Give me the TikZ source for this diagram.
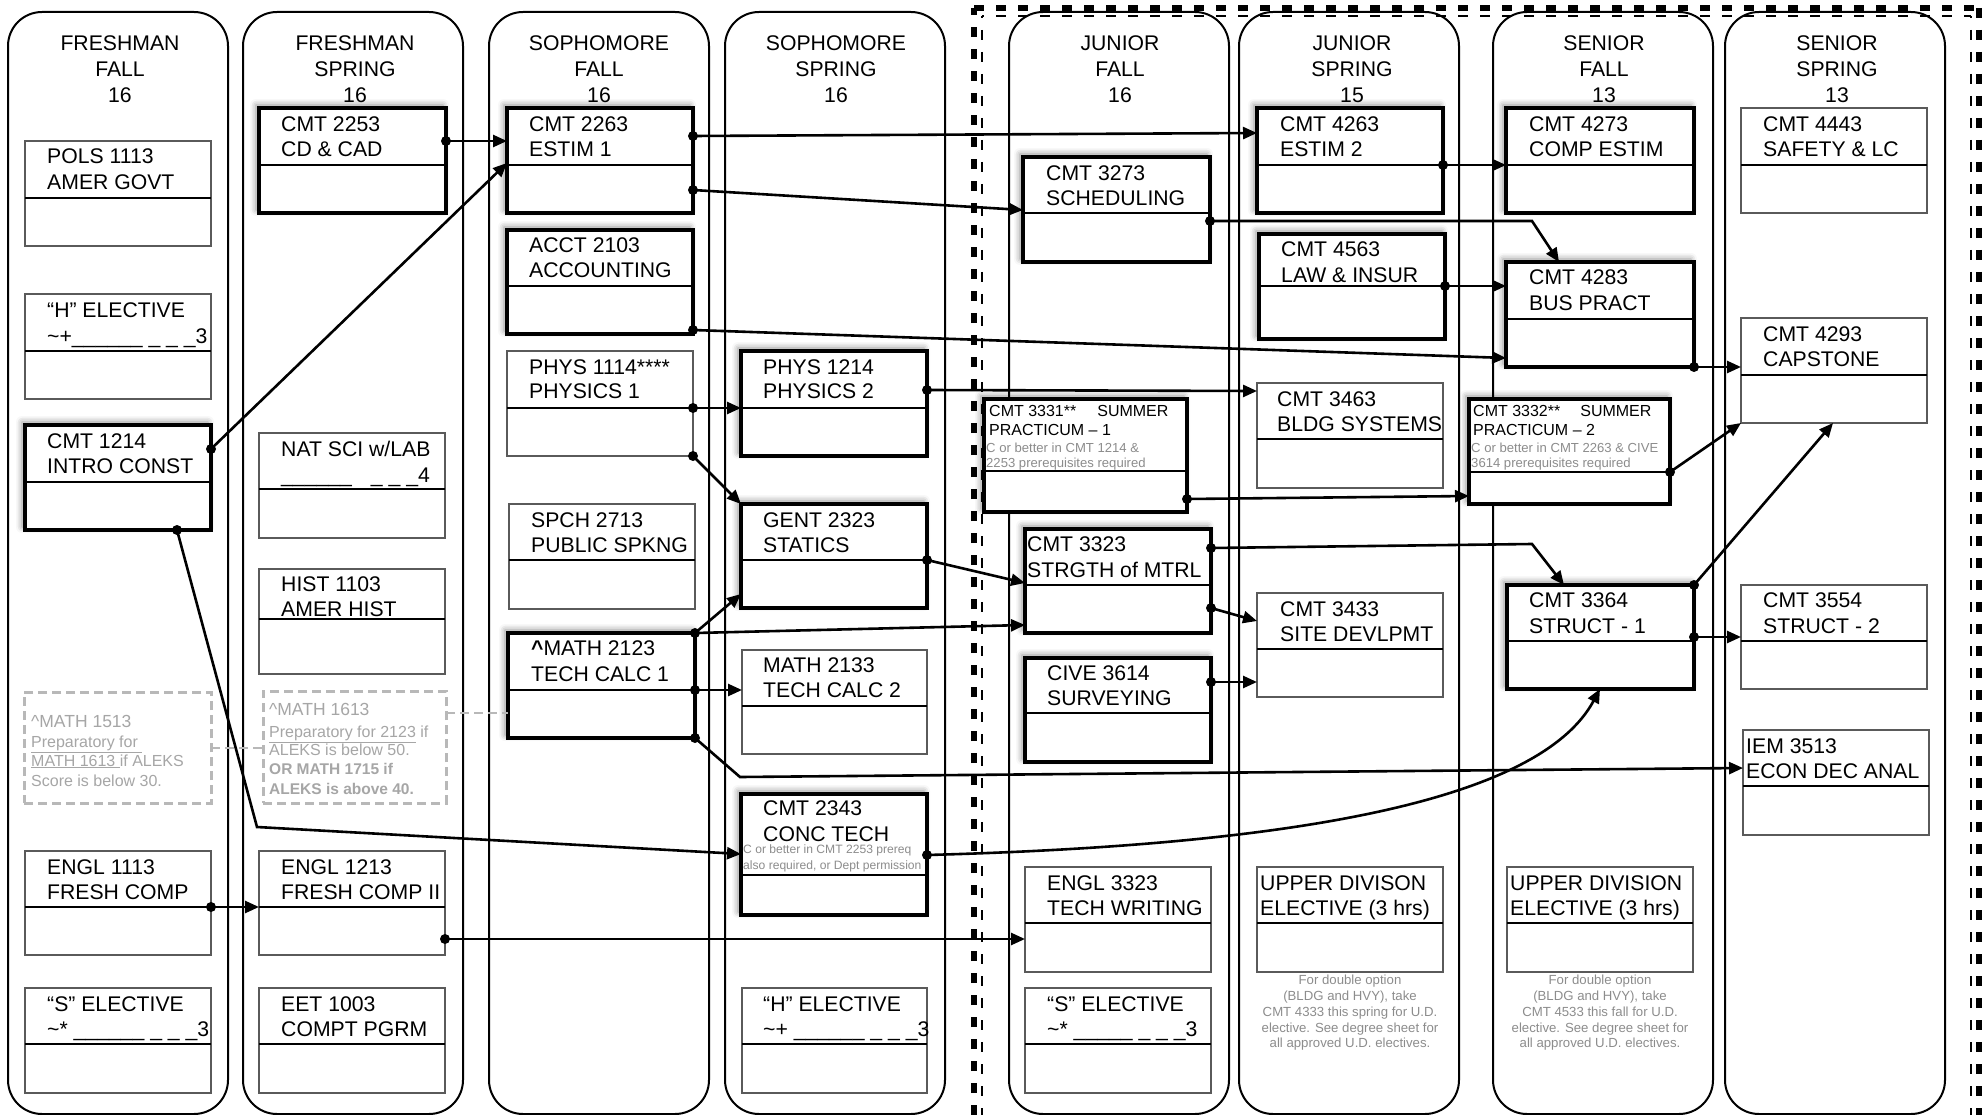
\documentclass[tikz,border=0pt]{standalone}
\usepackage{fontspec}
\setmainfont{Liberation Sans}
\usetikzlibrary{arrows.meta,calc,shadows.blur}
\definecolor{boxgray}{HTML}{5A5A5A}
\definecolor{notegray}{HTML}{8C8C8C}
\definecolor{mgray}{HTML}{A6A6A6}
\definecolor{dgray}{HTML}{B8B8B8}
\newcommand\mycrs[7]{%
  \pgfmathsetmacro\crsw{#5-#3}%
  \pgfmathsetmacro\crsh{#7-#4}%
  \node[#2, minimum width=\crsw pt, minimum height=\crsh pt, anchor=north west] (#1) at (#3,#4) {};%
  \draw[divider] (#3,#6) -- (#5,#6);%
}
\newcommand\mytwo[6]{%
  \node[tl] (#1a) at (#2,#3) {#5};%
  \node[tl] (#1b) at (#2,#4) {#6};%
}
\begin{document}
\begin{tikzpicture}[x=1pt,y=-1pt,
  semcol/.style={draw, line width=2pt, rounded corners=34pt, inner sep=0pt, outer sep=0pt, minimum width=220pt, minimum height=1102pt, anchor=north west},
  hdr/.style={align=center, inner sep=0pt, font=\fontsize{21.2}{26}\selectfont},
  thinbox/.style={draw=boxgray, line width=1.6pt, fill=white, inner sep=0pt, outer sep=0pt},
  thickbox/.style={draw=black, line width=4pt, fill=white, inner sep=0pt, outer sep=0pt, blur shadow={shadow xshift=-3pt, shadow yshift=3pt, shadow blur radius=6pt, shadow opacity=45}},
  mathbox/.style={draw=dgray, line width=3pt, dash pattern=on 9pt off 5pt, fill=white, inner sep=0pt, outer sep=0pt, anchor=north west},
  divider/.style={line width=2pt},
  tl/.style={anchor=base west, inner sep=0pt, font=\fontsize{21.2}{26}\selectfont},
  mtl/.style={anchor=base west, inner sep=0pt, text=mgray, font=\fontsize{16}{19}\selectfont},
  gtl/.style={anchor=base west, inner sep=0pt, text=notegray},
  note/.style={anchor=north, align=center, inner sep=0pt, text=notegray, font=\fontsize{13.2}{15.8}\selectfont},
  conn/.style={line width=2.6pt, -{Triangle[length=14pt,width=12pt]}},
  gconn/.style={draw=dgray, line width=2pt, dash pattern=on 9pt off 5pt},
  cdot/.style={circle, fill=black, inner sep=0pt, minimum size=10pt},
  bord/.style={dash pattern=on 10pt off 12pt}
]
\useasboundingbox (0,0) rectangle (1986,1115);

% semester columns
\node[semcol] (col1) at (8,12) {};
\node[semcol] (col2) at (243,12) {};
\node[semcol] (col3) at (489,12) {};
\node[semcol] (col4) at (725,12) {};
\node[semcol] (col5) at (1009,12) {};
\node[semcol] (col6) at (1239,12) {};
\node[semcol] (col7) at (1493,12) {};
\node[semcol] (col8) at (1725,12) {};

\node[hdr] (h1) at (120,69) {FRESHMAN\\FALL\\16};
\node[hdr] (h2) at (355,69) {FRESHMAN\\SPRING\\16};
\node[hdr] (h3) at (599,69) {SOPHOMORE\\FALL\\16};
\node[hdr] (h4) at (836,69) {SOPHOMORE\\SPRING\\16};
\node[hdr] (h5) at (1120,69) {JUNIOR\\FALL\\16};
\node[hdr] (h6) at (1352,69) {JUNIOR\\SPRING\\15};
\node[hdr] (h7) at (1604,69) {SENIOR\\FALL\\13};
\node[hdr] (h8) at (1837,69) {SENIOR\\SPRING\\13};

% dashed upper-division border
\draw[bord, line width=6pt] (974,1115) -- (974,8);
\draw[bord, line width=6pt] (974,8) -- (1979,8);
\draw[bord, line width=6pt] (1979,8) -- (1979,1115);
\draw[bord, line width=2.5pt, dash phase=8pt] (982,16) -- (982,1115);
\draw[bord, line width=2.5pt, dash phase=8pt] (982,16) -- (1971,16);
\draw[bord, line width=2.5pt, dash phase=8pt] (1971,16) -- (1971,1115);

% column 1
\mycrs{pols}{thinbox}{25}{141}{211}{198}{246}
\mytwo{pols}{47}{164}{190}{POLS 1113}{AMER GOVT}
\mycrs{helecA}{thinbox}{25}{294}{211}{351}{399}
\mytwo{helecA}{47}{317}{343}{“H” ELECTIVE}{\textasciitilde+\_\_\_\_\_\_\ \_\ \_\ \_3}
\mycrs{cmtAA}{thickbox}{25}{425}{211}{482}{530}
\mytwo{cmtAA}{47}{448}{473}{CMT 1214}{INTRO CONST}
\node[mathbox, minimum width=187pt, minimum height=111pt] (math1513) at (24,692) {};
\node[mtl, font=\fontsize{17.5}{20}\selectfont] (m1a) at (31,727) {\textasciicircum MATH 1513};
\node[mtl] (m1b) at (31,747) {\underline{Preparatory for\ }};
\node[mtl] (m1c) at (31,766) {\underline{MATH 1613\ }if ALEKS};
\node[mtl] (m1d) at (31,786) {Score is below 30.};
\mycrs{englA}{thinbox}{25}{851}{211}{907}{955}
\mytwo{englA}{47}{874}{899}{ENGL 1113}{FRESH COMP}
\mycrs{selecA}{thinbox}{25}{988}{211}{1044}{1093}
\mytwo{selecA}{47}{1011}{1036}{“S” ELECTIVE}{\textasciitilde* \_\_\_\_\_\_\ \_\ \_\ \_3}

% column 2
\mycrs{cmtAB}{thickbox}{259}{108}{446}{165}{213}
\mytwo{cmtAB}{281}{132}{157}{CMT 2253}{CD \& CAD}
\mycrs{natsci}{thinbox}{259}{433}{445}{489}{538}
\mytwo{natsci}{281}{456}{482}{NAT SCI w/LAB}{\_\_\_\_\_\_\hspace{19pt}\_\ \_\ \_4}
\mycrs{hist}{thinbox}{259}{569}{445}{619}{674}
\mytwo{hist}{281}{591}{616}{HIST 1103}{AMER HIST}
\node[mathbox, minimum width=183pt, minimum height=112pt] (math1613) at (263,691) {};
\node[mtl, font=\fontsize{17.5}{20}\selectfont] (m2a) at (269,715) {\textasciicircum MATH 1613};
\node[mtl] (m2b) at (269,737) {\underline{Preparatory for 2123} if};
\node[mtl] (m2c) at (269,755) {ALEKS is below 50.};
\node[mtl, font=\fontsize{15.5}{19}\selectfont\bfseries] (m2d) at (269,774) {OR MATH 1715 if};
\node[mtl, font=\fontsize{15.5}{19}\selectfont\bfseries] (m2e) at (269,794) {ALEKS is above 40.};
\mycrs{englB}{thinbox}{259}{851}{445}{907}{955}
\mytwo{englB}{281}{874}{899}{ENGL 1213}{FRESH COMP II}
\mycrs{eet}{thinbox}{259}{988}{445}{1044}{1093}
\mytwo{eet}{281}{1011}{1036}{EET 1003}{COMPT PGRM}

% column 3
\mycrs{cmtAC}{thickbox}{507}{108}{693}{165}{213}
\mytwo{cmtAC}{529}{132}{157}{CMT 2263}{ESTIM 1}
\mycrs{acct}{thickbox}{507}{230}{693}{286}{334}
\mytwo{acct}{529}{253}{278}{ACCT 2103}{ACCOUNTING}
\mycrs{physA}{thinbox}{507}{351}{693}{408}{456}
\mytwo{physA}{529}{374}{398}{PHYS 1114****}{PHYSICS 1}
\mycrs{spch}{thinbox}{509}{504}{695}{560}{609}
\mytwo{spch}{531}{527}{552}{SPCH 2713}{PUBLIC SPKNG}
\mycrs{mathA}{thickbox}{508}{633}{695}{690}{738}
\mytwo{mathA}{531}{655}{681}{\textbf{\textasciicircum}MATH 2123}{TECH CALC 1}

% column 4
\mycrs{physB}{thickbox}{741}{351}{927}{408}{456}
\mytwo{physB}{763}{374}{398}{PHYS 1214}{PHYSICS 2}
\mycrs{gent}{thickbox}{741}{504}{927}{560}{608}
\mytwo{gent}{763}{527}{552}{GENT 2323}{STATICS}
\mycrs{mathB}{thinbox}{742}{650}{927}{706}{754}
\mytwo{mathB}{763}{672}{697}{MATH 2133}{TECH CALC 2}
\mycrs{conc}{thickbox}{741}{794}{927}{875}{915}
\mytwo{conc}{763}{815}{841}{CMT 2343}{CONC TECH}
\node[gtl, font=\fontsize{12.1}{15}\selectfont] (conc-c) at (743,853) {C or better in CMT 2253 prereq};
\node[gtl, font=\fontsize{12.1}{15}\selectfont] (conc-d) at (743,869) {also required, or Dept permission};
\mycrs{helecB}{thinbox}{742}{988}{927}{1044}{1093}
\mytwo{helecB}{763}{1011}{1036}{“H” ELECTIVE}{\textasciitilde+ \_\_\_\_\_\_\ \_\ \_\ \_3}

% column 5
\mycrs{sched}{thickbox}{1023}{157}{1210}{213}{262}
\mytwo{sched}{1046}{181}{206}{CMT 3273}{SCHEDULING}
\mycrs{pracA}{thickbox}{984}{399}{1187}{471}{512}
\node[tl, font=\fontsize{16}{19}\selectfont] (pracA-a) at (989,416) {CMT 3331**\hspace{21pt}SUMMER};
\node[tl, font=\fontsize{16}{19}\selectfont] (pracA-b) at (989,435) {PRACTICUM -- 1};
\node[gtl, font=\fontsize{13.1}{15}\selectfont] (pracA-c) at (986,452) {C or better in CMT 1214 \&};
\node[gtl, font=\fontsize{13.1}{15}\selectfont] (pracA-d) at (986,467) {2253 prerequisites required};
\mycrs{strg}{thickbox}{1025}{529}{1211}{585}{633}
\mytwo{strg}{1027}{551}{577}{CMT 3323}{STRGTH of MTRL}
\mycrs{cive}{thickbox}{1025}{658}{1211}{713}{762}
\mytwo{cive}{1047}{680}{705}{CIVE 3614}{SURVEYING}
\mycrs{englC}{thinbox}{1025}{867}{1211}{923}{972}
\mytwo{englC}{1047}{890}{915}{ENGL 3323}{TECH WRITING}
\mycrs{selecB}{thinbox}{1025}{988}{1211}{1044}{1093}
\mytwo{selecB}{1047}{1011}{1036}{“S” ELECTIVE}{\textasciitilde* \_\_\_\_\_\ \_\ \_\ \_3}

% column 6
\mycrs{estB}{thickbox}{1257}{108}{1443}{165}{213}
\mytwo{estB}{1280}{132}{157}{CMT 4263}{ESTIM 2}
\mycrs{law}{thickbox}{1259}{234}{1445}{286}{339}
\mytwo{law}{1281}{257}{283}{CMT 4563}{LAW \& INSUR}
\mycrs{bldg}{thinbox}{1257}{383}{1443}{439}{488}
\mytwo{bldg}{1277}{406}{431}{CMT 3463}{BLDG SYSTEMS}
\mycrs{site}{thinbox}{1257}{593}{1443}{649}{697}
\mytwo{site}{1280}{616}{641}{CMT 3433}{SITE DEVLPMT}
\mycrs{udivA}{thinbox}{1257}{867}{1443}{923}{972}
\mytwo{udivA}{1260}{890}{915}{UPPER DIVISON}{ELECTIVE (3 hrs)}
\node[note] (noteA) at (1350,975) {For double option\\(BLDG and HVY), take\\CMT 4333 this spring for U.D.\\elective. See degree sheet for\\all approved U.D. electives.};

% column 7
\mycrs{comp}{thickbox}{1506}{108}{1694}{165}{213}
\mytwo{comp}{1529}{132}{157}{CMT 4273}{COMP ESTIM}
\mycrs{bus}{thickbox}{1506}{262}{1694}{319}{367}
\mytwo{bus}{1529}{285}{310}{CMT 4283}{BUS PRACT}
\mycrs{pracB}{thickbox}{1469}{399}{1670}{472}{504}
\node[tl, font=\fontsize{16}{19}\selectfont] (pracB-a) at (1473,416) {CMT 3332**\hspace{20pt}SUMMER};
\node[tl, font=\fontsize{16}{19}\selectfont] (pracB-b) at (1473,435) {PRACTICUM -- 2};
\node[gtl, font=\fontsize{13.1}{15}\selectfont] (pracB-c) at (1471,452) {C or better in CMT 2263 \& CIVE};
\node[gtl, font=\fontsize{13.1}{15}\selectfont] (pracB-d) at (1471,467) {3614 prerequisites required};
\mycrs{strA}{thickbox}{1507}{585}{1694}{641}{689}
\mytwo{strA}{1529}{607}{633}{CMT 3364}{STRUCT - 1}
\mycrs{udivB}{thinbox}{1507}{867}{1693}{923}{972}
\mytwo{udivB}{1510}{890}{915}{UPPER DIVISION}{ELECTIVE (3 hrs)}
\node[note] (noteB) at (1600,975) {For double option\\(BLDG and HVY), take\\CMT 4533 this fall for U.D.\\elective. See degree sheet for\\all approved U.D. electives.};

% column 8
\mycrs{safe}{thinbox}{1741}{108}{1927}{165}{213}
\mytwo{safe}{1763}{132}{157}{CMT 4443}{SAFETY \& LC}
\mycrs{cap}{thinbox}{1741}{318}{1927}{375}{423}
\mytwo{cap}{1763}{341}{366}{CMT 4293}{CAPSTONE}
\mycrs{strB}{thinbox}{1741}{585}{1927}{641}{689}
\mytwo{strB}{1763}{607}{633}{CMT 3554}{STRUCT - 2}
\mycrs{iem}{thinbox}{1743}{730}{1929}{786}{835}
\mytwo{iem}{1746}{753}{778}{IEM 3513}{ECON DEC ANAL}

% dashed advisory links
\draw[gconn] ($(math1513.north east)+(0,56)$) -- ($(math1613.north west)+(0,57)$);
\draw[gconn] ($(math1613.north east)+(0,22)$) -- ($(mathA.north west)+(0,80)$);

% prerequisite connectors
\draw[conn] ($(cmtAB.north east)+(0,33)$) node[cdot] (d1) {} -- ($(cmtAC.north west)+(0,33)$);
\draw[conn] ($(cmtAA.north east)+(0,24)$) node[cdot] (d2) {} -- ($(cmtAC.north west)+(0,55)$);
\draw[conn] ($(cmtAC.north east)+(0,28)$) node[cdot] (d3) {} -- ($(estB.north west)+(0,25)$);
\draw[conn] ($(cmtAC.north east)+(0,82)$) node[cdot] (d4) {} -- ($(sched.north west)+(0,53)$);
\draw[conn] ($(acct.south east)+(0,-4)$) node[cdot] (d5) {} -- ($(bus.north west)+(0,96)$);
\draw[conn] ($(estB.north east)+(0,57)$) node[cdot] (d6) {} -- ($(comp.north west)+(0,57)$);
\draw[conn] ($(law.north east)+(0,52)$) node[cdot] (d7) {} -- ($(bus.north west)+(0,24)$);
\coordinate (k8) at ($(bus.north west)+(26,-41)$);
\draw[conn] ($(sched.north east)+(0,64)$) node[cdot] (d8) {} -- (k8) -- ($(bus.north west)+(53,0)$);
\draw[conn] (bus.south east) node[cdot] (d9) {} -- ($(cap.north west)+(0,49)$);
\draw[conn] ($(physA.north east)+(0,57)$) node[cdot] (d10) {} -- ($(physB.north west)+(0,57)$);
\draw[conn] (physA.south east) node[cdot] (d11) {} -- (gent.north west);
\draw[conn] ($(physB.north east)+(0,39)$) node[cdot] (d12) {} -- ($(bldg.north west)+(0,8)$);
\draw[conn] ($(gent.north east)+(0,56)$) node[cdot] (d13) {} -- ($(strg.north west)+(0,54)$);
\draw[conn] (mathA.north east) -- ($(strg.north west)+(0,96)$);
\draw[conn] (mathA.north east) node[cdot] (d14) {} -- ($(gent.north west)+(0,90)$);
\draw[conn] ($(mathA.north east)+(0,57)$) node[cdot] (d16) {} -- ($(mathB.north west)+(0,40)$);
\coordinate (k17) at ($(mathB.south west)+(-2,23)$);
\draw[conn] (mathA.south east) node[cdot] (d17) {} -- (k17) -- ($(iem.north west)+(0,38)$);
\draw[conn] ($(englA.north east)+(0,56)$) node[cdot] (d18) {} -- ($(englB.north west)+(0,56)$);
\draw[conn] ($(englB.north east)+(0,88)$) node[cdot] (d19) {} -- ($(englC.north west)+(0,72)$);
\coordinate (k20) at ($(englB.north west)+(-2,-24)$);
\draw[conn] ($(cmtAA.south west)+(152,0)$) node[cdot] (d20) {} -- (k20) -- ($(conc.north west)+(0,60)$);
\draw[conn] ($(conc.north east)+(0,61)$) node[cdot] (d21) {} .. controls +(373,-10) and +(-60,111) .. ($(strA.south west)+(93,0)$);
\coordinate (k22) at ($(strA.north west)+(25,-41)$);
\draw[conn] ($(strg.north east)+(0,19)$) node[cdot] (d22) {} -- (k22) -- ($(strA.north west)+(57,0)$);
\draw[conn] ($(strg.north east)+(0,79)$) node[cdot] (d23) {} -- ($(site.north west)+(0,28)$);
\draw[conn] ($(cive.north east)+(0,24)$) node[cdot] (d24) {} -- ($(site.north west)+(0,89)$);
\draw[conn] ($(pracA.north east)+(0,100)$) node[cdot] (d25) {} -- ($(pracB.north west)+(0,97)$);
\draw[conn] ($(pracB.north east)+(0,73)$) node[cdot] (d26) {} -- (cap.south west);
\draw[conn] (strA.north east) node[cdot] (d27) {} -- ($(cap.south west)+(92,0)$);
\draw[conn] ($(strA.north east)+(0,52)$) node[cdot] (d28) {} -- ($(strB.north west)+(0,52)$);
\end{tikzpicture}
\end{document}
